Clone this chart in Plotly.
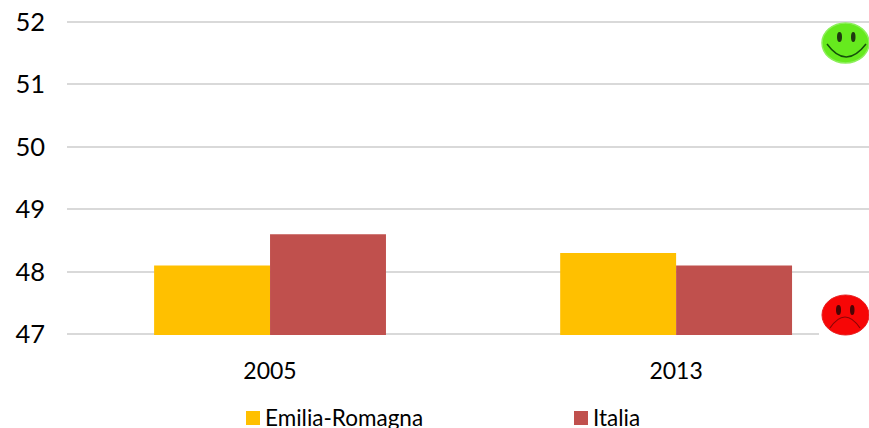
import plotly.graph_objects as go

years = ["2005", "2013"]
emilia = [48.1, 48.3]
italia = [48.6, 48.1]
y_ticks = [47, 48, 49, 50, 51, 52]
legend_names = ["Emilia-Romagna", "Italia"]
colors = ["#FFC000", "#C0504D"]

W, H = 869, 428
L, R, T, B = 67, 869, 20, 336
FONT = "Lato"

def px(x):
    return (x - L) / (R - L)

def py(y):
    return (B - y) / (B - T)

def ell(x0, y0, x1, y1, fill, line=None, lw=0):
    return dict(type="circle", xref="paper", yref="paper", x0=px(x0), x1=px(x1), y0=py(y0), y1=py(y1),
                fillcolor=fill, line=dict(color=line or fill, width=lw), layer="above")

def rect(x0, y0, x1, y1, fill):
    return dict(type="rect", xref="paper", yref="paper", x0=px(x0), x1=px(x1), y0=py(y0), y1=py(y1),
                fillcolor=fill, line=dict(width=0), layer="above")

def arc(x0, y0, cx, cy, x1, y1, color, lw):
    pts = [(x0, y0), (cx, cy), (x1, y1)]
    p = [f"{px(a):.5f},{py(b):.5f}" for a, b in pts]
    return dict(type="path", xref="paper", yref="paper", path=f"M{p[0]} Q{p[1]} {p[2]}",
                line=dict(color=color, width=lw), layer="above")

shapes = [
    # white patches: below the base line and behind the sad face
    rect(L, 335, R, 337, "white"),
    rect(819, 294, 869, 338, "white"),
    # happy face
    ell(822, 23, 869, 63, "#66EA1E", "#8CEF5A", 1.5),
    ell(837, 32, 842, 42, "#1F3A10"),
    ell(851, 32, 855.5, 42, "#1F3A10"),
    arc(827, 44, 846, 70, 866, 44, "#14500A", 1.5),
    # sad face
    ell(822, 295, 869, 335, "#F70606", "#E82020", 1),
    ell(836, 305, 841, 315, "#4A0505"),
    ell(850, 305, 854.5, 315, "#4A0505"),
    arc(830, 328, 845, 306, 860, 328, "#8A0505", 1.2),
    # legend swatches
    rect(246, 411, 260, 425, colors[0]),
    rect(574, 411, 588, 425, colors[1]),
]

annotations = [
    dict(text=legend_names[0], x=px(263), y=py(417.5), xref="paper", yref="paper", xanchor="left",
         yanchor="middle", showarrow=False, font=dict(family=FONT, size=22.5, color="black")),
    dict(text=legend_names[1], x=px(591), y=py(417.5), xref="paper", yref="paper", xanchor="left",
         yanchor="middle", showarrow=False, font=dict(family=FONT, size=22.5, color="black")),
]

fig = go.Figure()
fig.add_bar(x=years, y=emilia, name=legend_names[0], marker=dict(color=colors[0], line=dict(width=0)))
fig.add_bar(x=years, y=italia, name=legend_names[1], marker=dict(color=colors[1], line=dict(width=0)))

fig.update_layout(
    width=W, height=H, autosize=False,
    margin=dict(l=L, r=W - R, t=T, b=H - B, pad=0),
    paper_bgcolor="white", plot_bgcolor="white",
    barmode="group", bargap=0.429, bargroupgap=0,
    showlegend=False, shapes=shapes, annotations=annotations,
    font=dict(family=FONT, color="black"),
    xaxis=dict(type="category", categoryorder="array", categoryarray=years,
               range=[-0.5, 1.475], showgrid=False, zeroline=False, showline=False,
               ticks="", ticklabelstandoff=19, tickfont=dict(family=FONT, size=23, color="black")),
    yaxis=dict(range=[46.97, 52.03], tickvals=y_ticks, showgrid=True, gridcolor="#D9D9D9", gridwidth=2,
               zeroline=False, showline=False, ticks="", ticklabelstandoff=21,
               tickfont=dict(family=FONT, size=25.5, color="black")),
)
fig.write_html("out.html", config=dict(displayModeBar=False),
               post_script="document.body.style.margin='0';document.documentElement.style.overflow='hidden';")
